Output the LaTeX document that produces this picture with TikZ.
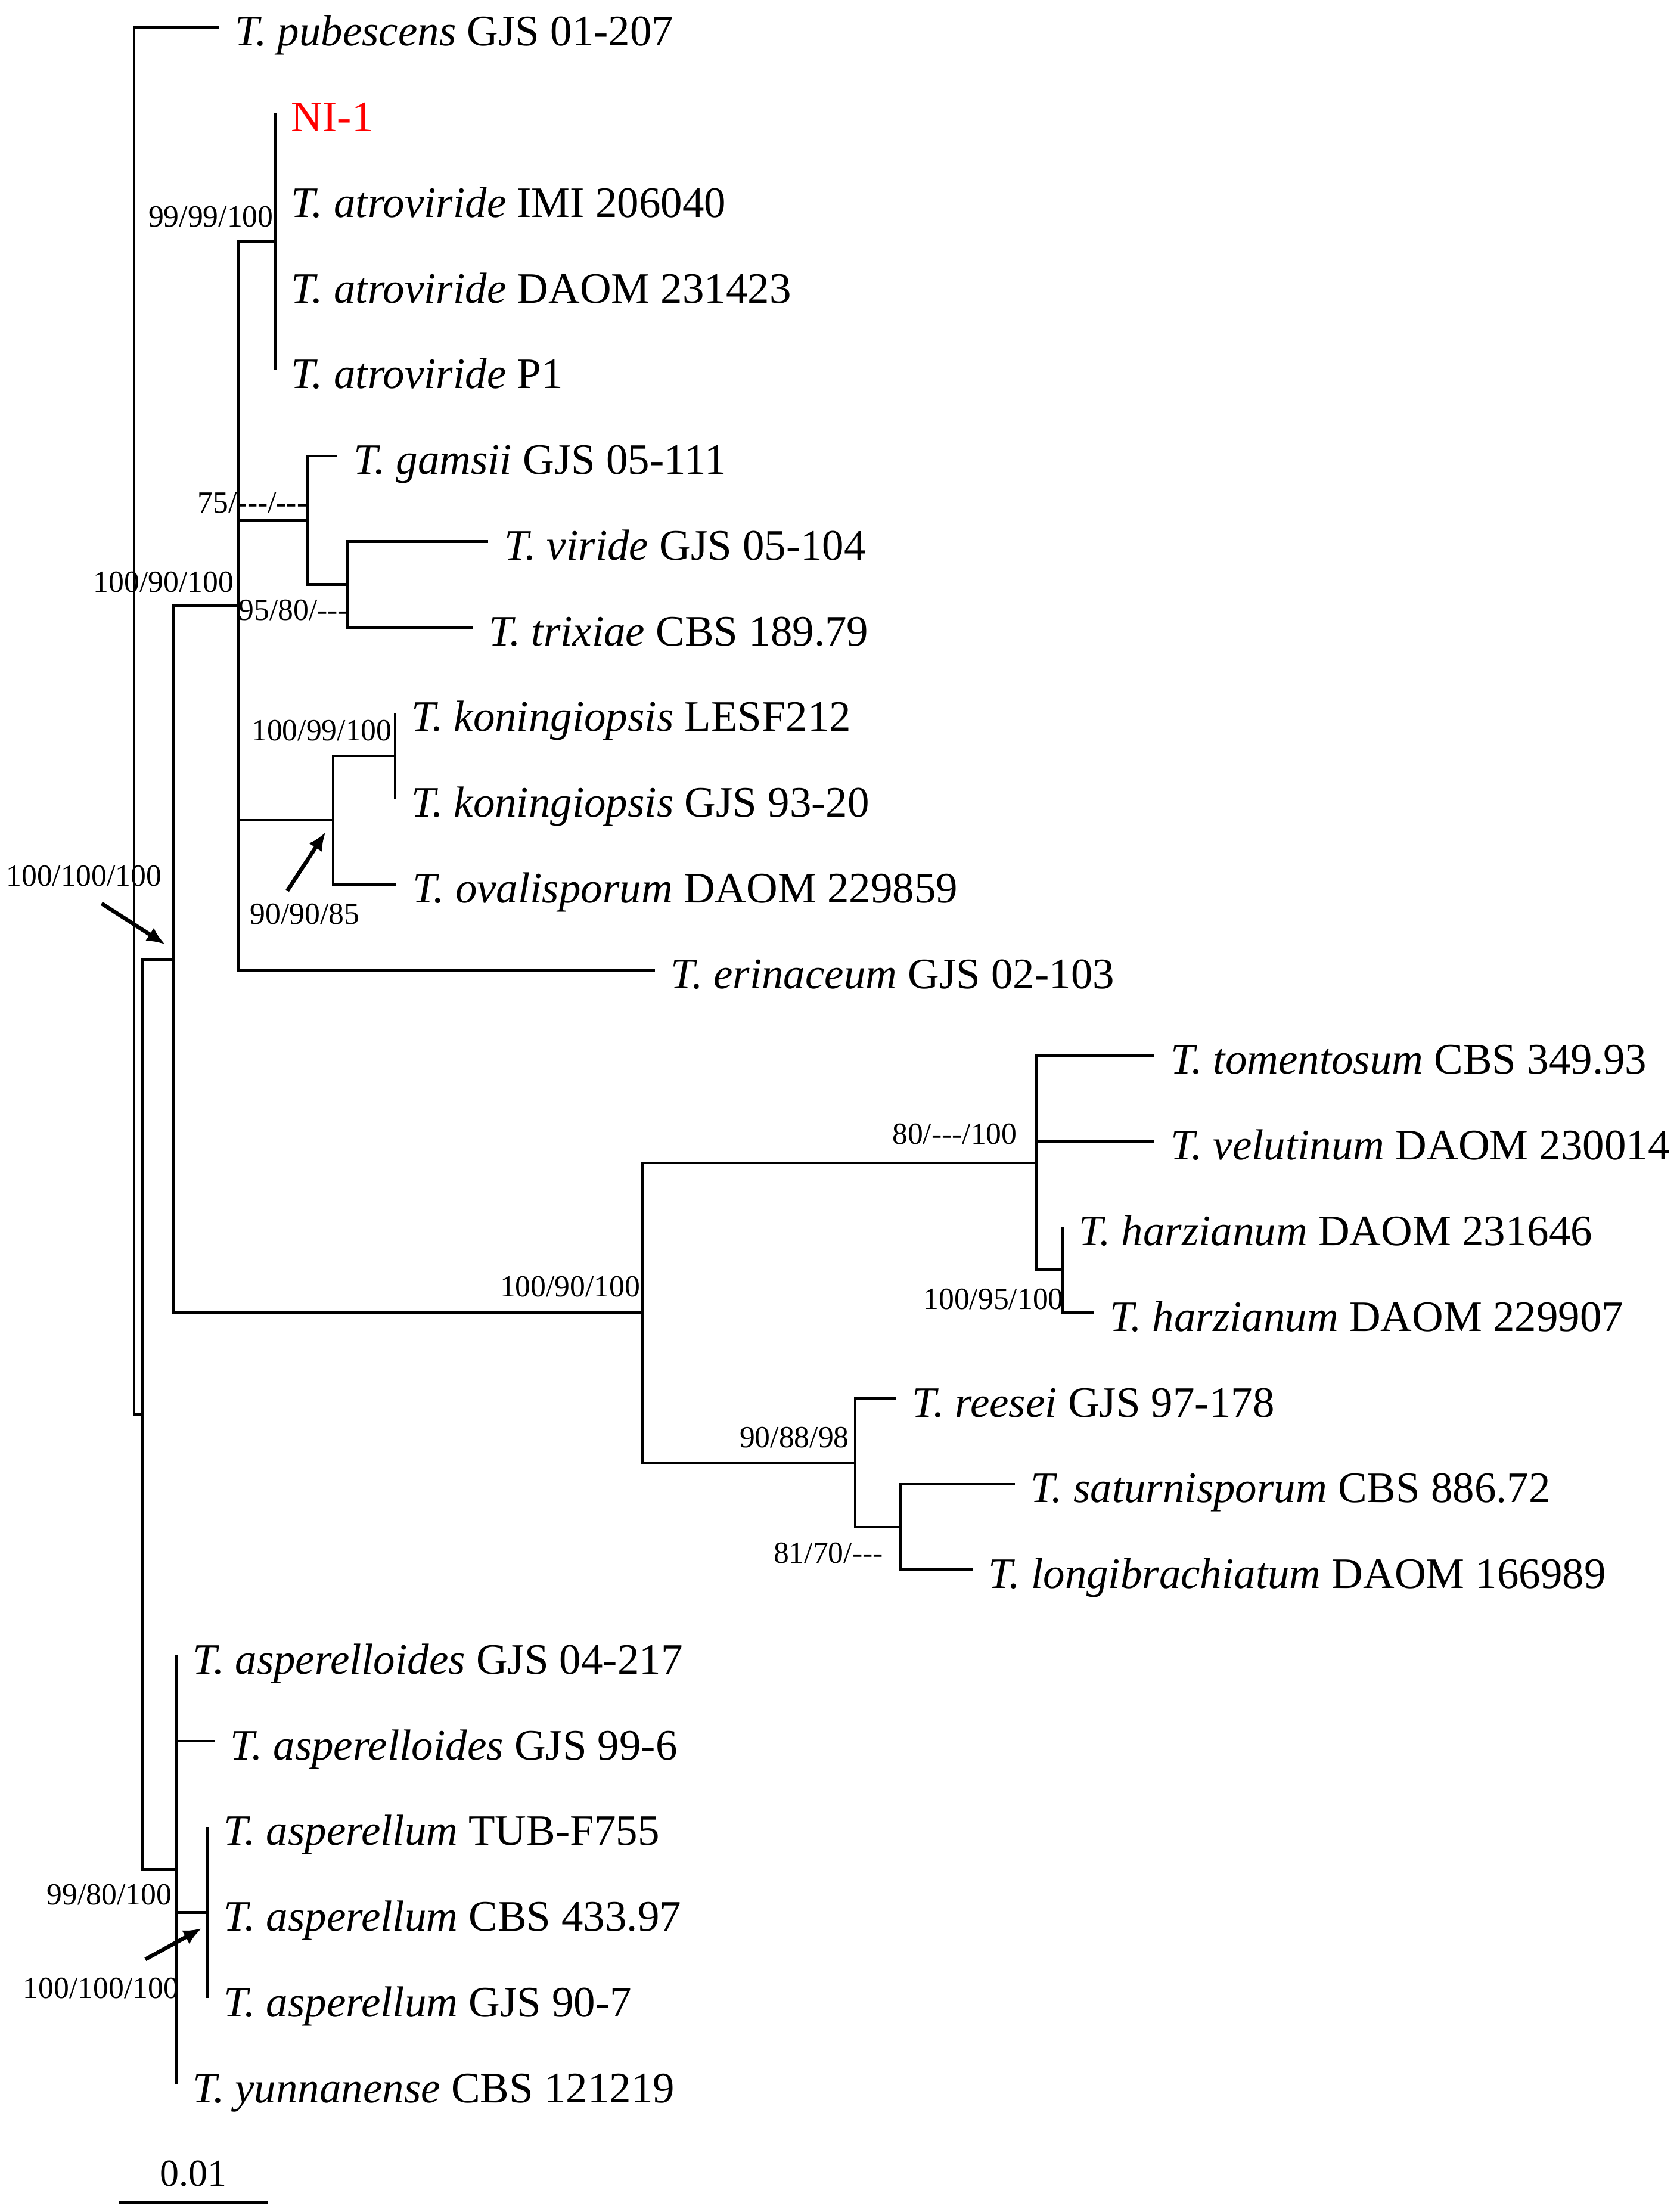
\documentclass[tikz,border=0pt]{standalone}
\usepackage{fontspec}
\setmainfont{Liberation Serif}
\usepackage{xcolor}
\usepackage{tikz}
\usetikzlibrary{positioning,arrows.meta}

\tikzset{
  branch/.style={line width=0.95pt},
  leaf/.style={anchor=west, inner sep=0pt, text height=14pt, text depth=1pt, font=\fontsize{15.4}{18}\selectfont},
  support/.style={anchor=east, inner sep=0pt, text height=7.5pt, text depth=0pt, font=\fontsize{10.9}{13}\selectfont},
  pointer/.style={line width=1.4pt, -{Latex[length=6.5pt,width=5.5pt]}}
}

\begin{document}
\begin{tikzpicture}[x=0.5pt,y=-0.5pt]

  \useasboundingbox (0,0) rectangle (1190,1567);

  \coordinate (root) at (95,510.8);
  \coordinate (nA) at (101,1002);
  \coordinate (nB) at (123,679.6);
  \coordinate (nC) at (169,429.2);
  \coordinate (nAtro) at (195,171.25);
  \coordinate (nGam) at (218,368.5);
  \coordinate (nVir) at (246,414);
  \coordinate (nKon) at (236,581);
  \coordinate (nKonb) at (280,535.5);
  \coordinate (nD) at (455,930);
  \coordinate (nE) at (734,823.8);
  \coordinate (nHar) at (753,899.7);
  \coordinate (nF) at (606,1036.2);
  \coordinate (nG) at (638,1081.75);
  \coordinate (nH) at (125,1324.5);
  \coordinate (nAsp) at (147,1354.9);

  \coordinate (tPub) at (155,19.5);
  \coordinate (tNI) at (195,80.2);
  \coordinate (tIMI) at (195,140.9);
  \coordinate (tDAOMa) at (195,201.6);
  \coordinate (tPone) at (195,262.3);
  \coordinate (tGam) at (239,323);
  \coordinate (tVir) at (346,383.7);
  \coordinate (tTrix) at (335,444.4);
  \coordinate (tLESF) at (280,505.1);
  \coordinate (tKon) at (280,565.8);
  \coordinate (tOval) at (281,626.5);
  \coordinate (tErin) at (464,687.2);
  \coordinate (tTom) at (818,747.9);
  \coordinate (tVel) at (818,808.6);
  \coordinate (tHara) at (753,869.3);
  \coordinate (tHarb) at (775,930);
  \coordinate (tRee) at (635,990.7);
  \coordinate (tSat) at (719,1051.4);
  \coordinate (tLong) at (689,1112.1);
  \coordinate (tAspa) at (125,1172.8);
  \coordinate (tAspb) at (152,1233.5);
  \coordinate (tTUB) at (147,1294.2);
  \coordinate (tCBS) at (147,1354.9);
  \coordinate (tGJS) at (147,1415.6);
  \coordinate (tYun) at (125,1476.3);

  \draw[branch] (root) |- (tPub) (root) |- (nA);
  \draw[branch] (nA) |- (nB) (nA) |- (nH);
  \draw[branch] (nB) |- (nC) (nB) |- (nD);
  \draw[branch] (nC) |- (nAtro) (nC) |- (nGam) (nC) |- (nKon) (nC) |- (tErin);
  \draw[branch] (nAtro) |- (tNI) (nAtro) |- (tPone);
  \draw[branch] (nGam) |- (tGam) (nGam) |- (nVir);
  \draw[branch] (nVir) |- (tVir) (nVir) |- (tTrix);
  \draw[branch] (nKon) |- (nKonb) (nKon) |- (tOval);
  \draw[branch] (nKonb) |- (tLESF) (nKonb) |- (tKon);
  \draw[branch] (nD) |- (nE) (nD) |- (nF);
  \draw[branch] (nE) |- (tTom) (nE) |- (tVel) (nE) |- (nHar);
  \draw[branch] (nHar) |- (tHara) (nHar) |- (tHarb);
  \draw[branch] (nF) |- (tRee) (nF) |- (nG);
  \draw[branch] (nG) |- (tSat) (nG) |- (tLong);
  \draw[branch] (nH) |- (tAspa) (nH) |- (tAspb) (nH) |- (nAsp) (nH) |- (tYun);
  \draw[branch] (nAsp) |- (tTUB) (nAsp) |- (tGJS);

  \node[leaf, right=5.5pt of tPub] (lPub) {\textit{T. pubescens} GJS 01-207};
  \node[leaf, right=5.5pt of tNI, text=red] (lNI) {NI-1};
  \node[leaf, right=5.5pt of tIMI] (lIMI) {\textit{T. atroviride} IMI 206040};
  \node[leaf, right=5.5pt of tDAOMa] (lDAOMa) {\textit{T. atroviride} DAOM 231423};
  \node[leaf, right=5.5pt of tPone] (lPone) {\textit{T. atroviride} P1};
  \node[leaf, right=5.5pt of tGam] (lGam) {\textit{T. gamsii} GJS 05-111};
  \node[leaf, right=5.5pt of tVir] (lVir) {\textit{T. viride} GJS 05-104};
  \node[leaf, right=5.5pt of tTrix] (lTrix) {\textit{T. trixiae} CBS 189.79};
  \node[leaf, right=5.5pt of tLESF] (lLESF) {\textit{T. koningiopsis} LESF212};
  \node[leaf, right=5.5pt of tKon] (lKon) {\textit{T. koningiopsis} GJS 93-20};
  \node[leaf, right=5.5pt of tOval] (lOval) {\textit{T. ovalisporum} DAOM 229859};
  \node[leaf, right=5.5pt of tErin] (lErin) {\textit{T. erinaceum} GJS 02-103};
  \node[leaf, right=5.5pt of tTom] (lTom) {\textit{T. tomentosum} CBS 349.93};
  \node[leaf, right=5.5pt of tVel] (lVel) {\textit{T. velutinum} DAOM 230014};
  \node[leaf, right=5.5pt of tHara] (lHara) {\textit{T. harzianum} DAOM 231646};
  \node[leaf, right=5.5pt of tHarb] (lHarb) {\textit{T. harzianum} DAOM 229907};
  \node[leaf, right=5.5pt of tRee] (lRee) {\textit{T. reesei} GJS 97-178};
  \node[leaf, right=5.5pt of tSat] (lSat) {\textit{T. saturnisporum} CBS 886.72};
  \node[leaf, right=5.5pt of tLong] (lLong) {\textit{T. longibrachiatum} DAOM 166989};
  \node[leaf, right=5.5pt of tAspa] (lAspa) {\textit{T. asperelloides} GJS 04-217};
  \node[leaf, right=5.5pt of tAspb] (lAspb) {\textit{T. asperelloides} GJS 99-6};
  \node[leaf, right=5.5pt of tTUB] (lTUB) {\textit{T. asperellum} TUB-F755};
  \node[leaf, right=5.5pt of tCBS] (lCBS) {\textit{T. asperellum} CBS 433.97};
  \node[leaf, right=5.5pt of tGJS] (lGJS) {\textit{T. asperellum} GJS 90-7};
  \node[leaf, right=5.5pt of tYun] (lYun) {\textit{T. yunnanense} CBS 121219};

  \node[support] (sAtro) at (194,153) {99/99/100};
  \node[support] (sGam) at (218,356) {75/-{}-{}-/-{}-{}-};
  \node[support] (sVir) at (247,432) {95/80/-{}-{}-};
  \node[support] (sC) at (166,412) {100/90/100};
  \node[support] (sB) at (115,620) {100/100/100};
  \node[support] (sKonb) at (278,517) {100/99/100};
  \node[support, anchor=center] (sKon) at (216,647) {90/90/85};
  \node[support] (sD) at (454,911) {100/90/100};
  \node[support] (sE) at (721,803) {80/-{}-{}-/100};
  \node[support] (sHar) at (754,920) {100/95/100};
  \node[support] (sF) at (602,1018) {90/88/98};
  \node[support] (sG) at (626,1100) {81/70/-{}-{}-};
  \node[support] (sH) at (122,1342) {99/80/100};
  \node[support] (sAsp) at (127,1408) {100/100/100};

  \coordinate (pBs) at (72,640);
  \coordinate (pBe) at (117,669);
  \coordinate (pKs) at (203.6,631);
  \coordinate (pKe) at (230.7,589.5);
  \coordinate (pAs) at (103,1388);
  \coordinate (pAe) at (143,1366);
  \draw[pointer] (pBs) -- (pBe);
  \draw[pointer] (pKs) -- (pKe);
  \draw[pointer] (pAs) -- (pAe);

  \coordinate (barL) at (84,1560);
  \coordinate (barR) at (190,1560);
  \draw[branch] (barL) -- node[midway, anchor=base, inner sep=0pt, yshift=5.75pt, font=\fontsize{13.5}{16}\selectfont] (barT) {0.01} (barR);

\end{tikzpicture}
\end{document}
